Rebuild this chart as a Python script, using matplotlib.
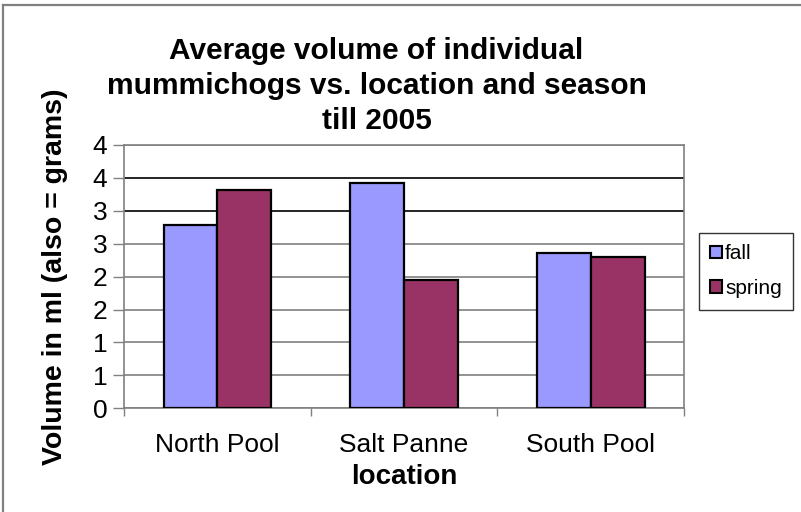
import numpy as np
import matplotlib
matplotlib.use('Agg')
import matplotlib.pyplot as plt
from matplotlib.lines import Line2D
from matplotlib.patches import Patch

plt.rcParams['font.family'] = ['Liberation Sans', 'DejaVu Sans']

# --- data ---
locations = ['North Pool', 'Salt Panne', 'South Pool']
fall = [2.78, 3.42, 2.36]
spring = [3.31, 1.95, 2.30]
yticks = [0, 0.5, 1, 1.5, 2, 2.5, 3, 3.5, 4]
ytick_labels = ['0', '1', '1', '2', '2', '3', '3', '4', '4']

fall_color = '#9999FF'
spring_color = '#993366'

fig = plt.figure(figsize=(8.01, 5.12), dpi=100)
ax = fig.add_axes([0.155, 0.2025, 0.699, 0.5145])

x = np.arange(len(locations))
w = 0.289
ax.bar(x - w / 2, fall, w, color=fall_color, edgecolor='black', linewidth=1.6, zorder=3)
ax.bar(x + w / 2, spring, w, color=spring_color, edgecolor='black', linewidth=1.6, zorder=3)

ax.set_xlim(-0.5, 2.5)
ax.set_ylim(0, 4)
ax.set_yticks(yticks)
ax.set_yticklabels(ytick_labels)
ax.set_xticks(x)
ax.set_xticklabels(locations)
ax.set_xticks([-0.5, 0.5, 1.5, 2.5], minor=True)
ax.tick_params(axis='x', which='major', length=0, labelsize=19, pad=18)
ax.tick_params(axis='x', which='minor', length=6, width=1, color='#808080')
ax.tick_params(axis='y', length=8, width=1, color='#808080', labelsize=19, pad=4)

ax.yaxis.grid(True, linewidth=1.2, color='#808080', zorder=0)
for gl, v in zip(ax.get_ygridlines(), yticks):
    if v in (3, 3.5):
        gl.set_color('black')
ax.set_axisbelow(True)
for s in ax.spines.values():
    s.set_color('#808080')
    s.set_linewidth(1.2)

ax.set_xlabel('location', fontsize=20, fontweight='bold', labelpad=5)
ax.set_ylabel('Volume in ml (also = grams)', fontsize=20.5, fontweight='bold', labelpad=18)
fig.text(0.47, 0.832, 'Average volume of individual\nmummichogs vs. location and season\ntill 2005',
         ha='center', va='center', fontsize=21.5, fontweight='bold', linespacing=1.3)

handles = [Patch(facecolor=fall_color, edgecolor='black', linewidth=1.5, label='fall'),
           Patch(facecolor=spring_color, edgecolor='black', linewidth=1.5, label='spring')]
leg = fig.legend(handles=handles, loc='upper left', bbox_to_anchor=(699 / 801, 1 - 233 / 512),
                 fontsize=15, frameon=True, fancybox=False, edgecolor='black',
                 handlelength=0.55, handleheight=0.55, handletextpad=0.15,
                 labelspacing=0.75, borderpad=0.55, borderaxespad=0)
leg.get_frame().set_linewidth(1.0)

# outer chart border (top and left visible)
fig.add_artist(Line2D([3 / 801, 1], [1 - 5 / 512, 1 - 5 / 512], color='#808080', linewidth=1.6))
fig.add_artist(Line2D([3 / 801, 3 / 801], [0, 1 - 5 / 512], color='#808080', linewidth=1.6))

fig.savefig('out.png', dpi=100)
